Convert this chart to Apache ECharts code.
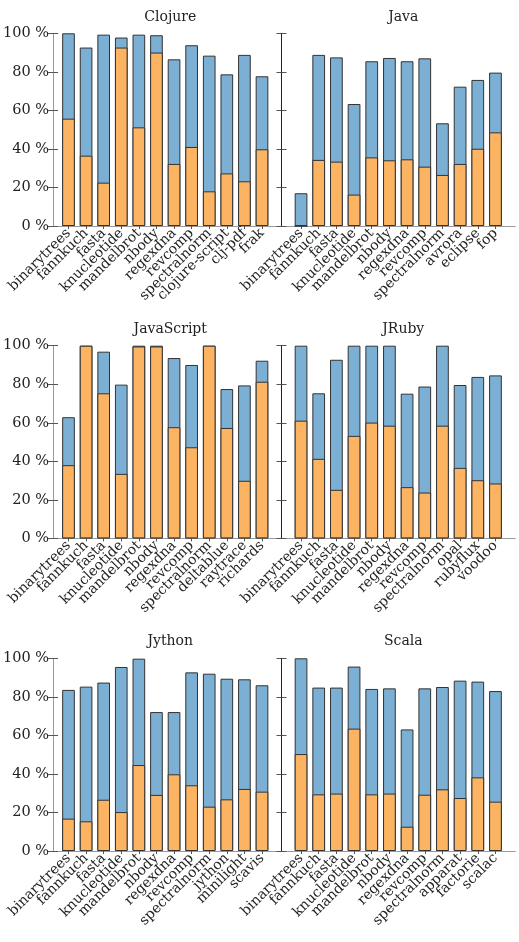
<!DOCTYPE html>
<html>
<head>
<meta charset="utf-8">
<script src="https://cdn.jsdelivr.net/npm/echarts@6/dist/echarts.min.js"></script>
<style>
html,body{margin:0;padding:0;background:#fff;}
#chart{width:519px;height:942px;}
</style>
</head>
<body>
<div id="chart"></div>
<script>
// ---- data ----
const panelTitles = ['Clojure', 'Java', 'JavaScript', 'JRuby', 'Jython', 'Scala'];

const clojureCats = ['binarytrees','fannkuch','fasta','knucleotide','mandelbrot','nbody','regexdna','revcomp','spectralnorm','clojure-script','clj-pdf','frak'];
const clojureTotal = [100, 92.6, 99.3, 97.8, 99.3, 99.0, 86.5, 93.8, 88.4, 78.7, 88.8, 77.7];
const clojureOrange = [55.7, 36.5, 22.5, 92.6, 51.2, 90.0, 32.2, 41.0, 18.0, 27.3, 23.2, 39.8];

const javaCats = ['binarytrees','fannkuch','fasta','knucleotide','mandelbrot','nbody','regexdna','revcomp','spectralnorm','avrora','eclipse','fop'];
const javaTotal = [17.0, 88.8, 87.5, 63.3, 85.5, 87.2, 85.5, 87.0, 53.3, 72.3, 75.8, 79.6];
const javaOrange = [0, 34.3, 33.4, 16.3, 35.6, 34.1, 34.6, 30.8, 26.5, 32.2, 40.1, 48.6];

const javascriptCats = ['binarytrees','fannkuch','fasta','knucleotide','mandelbrot','nbody','regexdna','revcomp','spectralnorm','deltablue','raytrace','richards'];
const javascriptTotal = [62.9, 100, 96.9, 79.8, 100, 100, 93.6, 90.0, 100, 77.5, 79.4, 92.2];
const javascriptOrange = [38.0, 100, 75.3, 33.5, 99.6, 99.6, 57.7, 47.3, 100, 57.3, 29.9, 81.3];

const jrubyCats = ['binarytrees','fannkuch','fasta','knucleotide','mandelbrot','nbody','regexdna','revcomp','spectralnorm','opal','rubyflux','voodoo'];
const jrubyTotal = [100, 75.3, 92.7, 100, 100, 100, 75.1, 78.8, 100, 79.6, 83.8, 84.6];
const jrubyOrange = [61.1, 41.3, 25.2, 53.2, 60.1, 58.5, 26.6, 23.8, 58.5, 36.6, 30.2, 28.5];

const jythonCats = ['binarytrees','fannkuch','fasta','knucleotide','mandelbrot','nbody','regexdna','revcomp','spectralnorm','jython','minilight','scavis'];
const jythonTotal = [83.6, 85.3, 87.4, 95.5, 99.8, 72.1, 72.1, 92.7, 92.0, 89.4, 89.1, 86.0];
const jythonOrange = [16.8, 15.4, 26.6, 20.2, 44.6, 29.1, 39.8, 34.1, 23.0, 26.8, 32.2, 30.8];

const scalaCats = ['binarytrees','fannkuch','fasta','knucleotide','mandelbrot','nbody','regexdna','revcomp','spectralnorm','apparat','factorie','scalac'];
const scalaTotal = [100, 84.8, 84.8, 95.7, 84.1, 84.4, 63.1, 84.4, 85.1, 88.4, 87.9, 83.0];
const scalaOrange = [50.3, 29.4, 29.8, 63.5, 29.4, 29.8, 12.6, 29.2, 32.0, 27.5, 38.2, 25.6];

const yTicks = [0, 20, 40, 60, 80, 100];

// ---- layout / style ----
const panels = [
  {cats: clojureCats, total: clojureTotal, orange: clojureOrange},
  {cats: javaCats, total: javaTotal, orange: javaOrange},
  {cats: javascriptCats, total: javascriptTotal, orange: javascriptOrange},
  {cats: jrubyCats, total: jrubyTotal, orange: jrubyOrange},
  {cats: jythonCats, total: jythonTotal, orange: jythonOrange},
  {cats: scalaCats, total: scalaTotal, orange: scalaOrange}
];
const FONT = 'DejaVu Serif';
const colLeft = [49, 281.5];
const colWidth = [232.5, 233.5];
const rowTop = [33.3, 345.7, 658.3];
const rowH = 192.7;
const titleTop = [5.5, 317, 629.5];
const inset = 10.7;
const BLUE = '#7bafd4';
const ORANGE = '#fdb462';
const FRAME = '#999999';
const SEP = '#222222';

const grid = [], xAxis = [], yAxis = [], series = [], title = [];

panels.forEach((p, i) => {
  const col = i % 2, row = Math.floor(i / 2);
  const L = colLeft[col], W = colWidth[col], T = rowTop[row];
  const gFrame = grid.length;
  grid.push({left: L, top: T, width: W, height: rowH, show: false});
  const gData = grid.length;
  grid.push({left: L + inset, top: T, width: W - 2 * inset, height: rowH, show: false});

  title.push({
    text: panelTitles[i],
    left: L + W / 2, top: titleTop[row], textAlign: 'center',
    textStyle: {fontFamily: FONT, fontSize: 14, fontWeight: 'normal', color: '#222'}
  });

  // frame axes
  xAxis.push({gridIndex: gFrame, type: 'value', min: 0, max: 1, position: 'top',
    axisLine: {show: true, lineStyle: {color: FRAME, width: 1}},
    axisTick: {show: false}, axisLabel: {show: false}, splitLine: {show: false}});
  xAxis.push({gridIndex: gFrame, type: 'value', min: 0, max: 1, position: 'bottom',
    axisLine: {show: true, lineStyle: {color: FRAME, width: 1}},
    axisTick: {show: false}, axisLabel: {show: false}, splitLine: {show: false}});
  yAxis.push({gridIndex: gFrame, type: 'value', min: 0, max: 100, interval: 20, position: 'left',
    axisLine: {show: true, lineStyle: {color: col === 0 ? FRAME : SEP, width: 1}},
    axisTick: {show: true, inside: true, length: 5, lineStyle: {color: '#555'}},
    axisLabel: {show: col === 0, fontFamily: FONT, fontSize: 14.5, color: '#222', margin: 4,
      formatter: v => yTicks.indexOf(v) >= 0 ? v + ' %' : ''},
    splitLine: {show: false}, z: 5});
  yAxis.push({gridIndex: gFrame, type: 'value', min: 0, max: 100, interval: 20, position: 'right',
    axisLine: {show: col === 1, lineStyle: {color: FRAME, width: 1}},
    axisTick: {show: true, inside: true, length: 5, lineStyle: {color: '#555'}},
    axisLabel: {show: false}, splitLine: {show: false}});

  // data axes
  const xData = xAxis.length;
  xAxis.push({gridIndex: gData, type: 'category', data: p.cats, boundaryGap: true,
    axisLine: {show: false},
    axisTick: {show: true, alignWithLabel: true, length: 3, interval: 0, lineStyle: {color: '#555'}},
    axisLabel: {interval: 0, rotate: 45, fontFamily: FONT, fontSize: 14, color: '#222', margin: 5}});
  const yData = yAxis.length;
  yAxis.push({gridIndex: gData, type: 'value', min: 0, max: 100, show: false, splitLine: {show: false}});

  series.push({type: 'bar', xAxisIndex: xData, yAxisIndex: yData, data: p.total,
    barWidth: '72%', barGap: '-100%',
    itemStyle: {color: BLUE, borderColor: '#333', borderWidth: 1}, z: 2, silent: true});
  series.push({type: 'bar', xAxisIndex: xData, yAxisIndex: yData, data: p.orange,
    barWidth: '72%', barGap: '-100%',
    itemStyle: {color: ORANGE, borderColor: '#333', borderWidth: 1}, z: 3, silent: true});
});

const chart = echarts.init(document.getElementById('chart'), null, {renderer: 'canvas'});
chart.setOption({
  animation: false,
  backgroundColor: '#ffffff',
  title, grid, xAxis, yAxis, series
});
</script>
</body>
</html>
